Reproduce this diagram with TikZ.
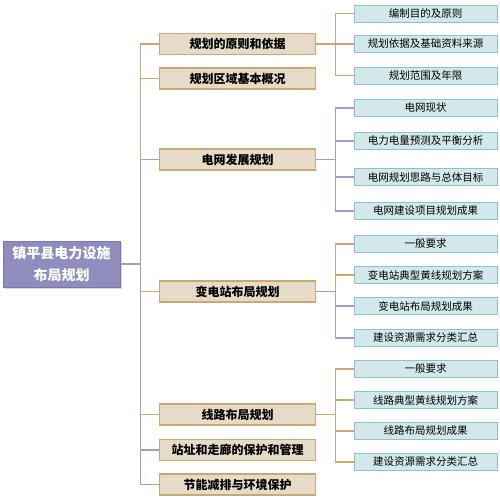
\documentclass[tikz,border=0pt]{standalone}
\usepackage{fontspec}
\newfontfamily\cjk{Noto Sans CJK SC}
\usetikzlibrary{shadows}
\definecolor{zpplum}{HTML}{908DBE}
\definecolor{zpplumdark}{HTML}{7A77AD}
\definecolor{zpplumline}{HTML}{A09DC9}
\definecolor{zpsand}{HTML}{E6DBC9}
\definecolor{zptanline}{HTML}{C7A977}
\definecolor{zpteal}{HTML}{D2E8EA}
\definecolor{zptealline}{HTML}{8EC2C5}
\tikzset{
  planroot/.style={draw=zpplumdark,fill=zpplum,line width=1pt,
    minimum width=117pt,minimum height=46pt,inner sep=0pt,align=center,
    text=white,font=\cjk\bfseries\fontsize{14}{22}\selectfont,
    drop shadow={shadow xshift=1.5pt,shadow yshift=-1.5pt,opacity=0.3}},
  planhead/.style={draw=zptanline,fill=zpsand,line width=1.3pt,
    minimum width=156pt,minimum height=21pt,inner sep=0pt,
    font=\cjk\bfseries\fontsize{12}{14}\selectfont},
  planitem/.style={draw=zptealline,fill=zpteal,line width=1pt,
    minimum width=143pt,minimum height=17pt,inner sep=0pt,
    font=\cjk\fontsize{10.5}{12}\selectfont},
  tanlink/.style={draw=zptanline,line width=1.3pt},
  plumlink/.style={draw=zpplumline,line width=1.3pt},
}
\begin{document}
\begin{tikzpicture}[x=1pt,y=-1pt]
  \path[use as bounding box] (0,0) rectangle (500,498);
  \node[planroot] (root) at (61.5,264) {镇平县电力设施\\布局规划};
  \foreach \n/\y/\t in {1/44/规划的原则和依据,2/78.5/规划区域基本概况,
      3/159.5/电网发展规划,4/291.5/变电站布局规划,5/414.5/线路布局规划,
      6/450/站址和走廊的保护和管理,7/484.5/节能减排与环境保护}
    {\node[planhead] (h\n) at (237.5,\y) {\t};
     \coordinate (j\n) at ([xshift=19pt]h\n.east);}
  \foreach \n/\y/\t in {1/13.5/编制目的及原则,2/44/规划依据及基础资料来源,
      3/75.5/规划范围及年限,4/108/电网现状,5/141/电力电量预测及平衡分析,
      6/177/电网规划思路与总体目标,7/211/电网建设项目规划成果,
      8/244/一般要求,9/275/变电站典型黄线规划方案,10/306/变电站布局规划成果,
      11/338/建设资源需求分类汇总,12/369/一般要求,13/400/线路典型黄线规划方案,
      14/431/线路布局规划成果,15/462/建设资源需求分类汇总}
    {\node[planitem] (s\n) at (425.5,\y) {\t};}
  \coordinate (rootjoin) at ([xshift=20pt]root.east);
  % tan branches first, the plum ones lie over them
  \foreach \h in {1,2,4,5}
    {\draw[tanlink] (root.east) -- (rootjoin) |- (h\h.west);}
  \foreach \h/\s in {1/1,1/2,1/3,4/8,4/9,5/12,5/13,5/14,5/15}
    {\draw[tanlink] (h\h.east) -- (j\h) |- (s\s.west);}
  \foreach \h in {3,6,7}
    {\draw[plumlink] (root.east) -- (rootjoin) |- (h\h.west);}
  \foreach \h/\s in {3/4,3/5,3/6,3/7,4/10,4/11}
    {\draw[plumlink] (h\h.east) -- (j\h) |- (s\s.west);}
\end{tikzpicture}
\end{document}
